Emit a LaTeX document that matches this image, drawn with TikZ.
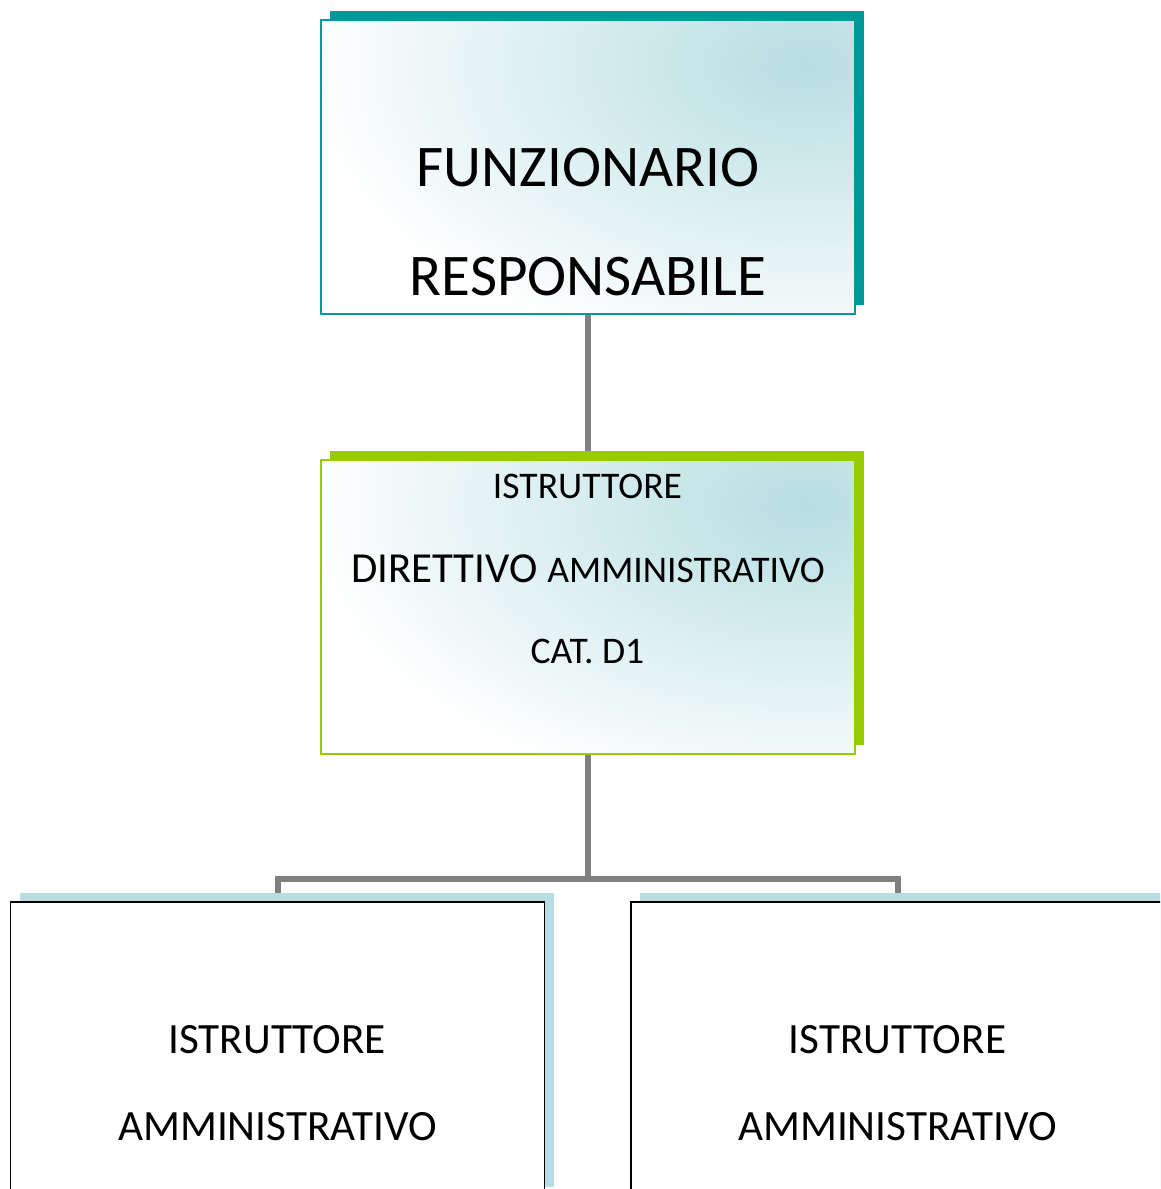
\documentclass[tikz,border=0pt]{standalone}
\usepackage{fontspec}
\setmainfont{Carlito}
\usetikzlibrary{shadows,backgrounds}

\definecolor{boxteal}{RGB}{0,153,153}
\definecolor{boxgreen}{RGB}{153,204,0}
\definecolor{paleteal}{RGB}{183,222,226}
\definecolor{linegray}{RGB}{128,128,128}

\tikzset{every picture/.style={line width=0.75pt}}
\tikzset{
  orgbox/.style={draw, rectangle, minimum width=534pt, minimum height=294pt, inner sep=0pt, fill=white},
  tinted/.style={path picture={\shade[inner color=paleteal, outer color=white] ([xshift=-50pt,yshift=-45pt]path picture bounding box.north east) ellipse (500pt and 300pt);}},
  backshadow/.style={general shadow={shadow xshift=9pt, shadow yshift=9pt, fill=#1}},
  conn/.style={draw=linegray, line width=6pt},
  lbl/.style={anchor=base, inner sep=0pt},
  huge/.style={font=\fontsize{59}{59}\selectfont},
  mid/.style={font=\fontsize{43.2}{43}\selectfont},
  small/.style={font=\fontsize{37.6}{37}\selectfont}
}

\begin{document}
\begin{tikzpicture}[x=1pt,y=-1pt]
  \useasboundingbox (0,0) rectangle (1160,1189);
  \clip (0,0) rectangle (1160,1189);

  % boxes
  \node[orgbox, draw=boxteal, line width=2pt, backshadow=boxteal, tinted] (funz) at (588,167) {};
  \node[orgbox, draw=boxgreen, line width=2pt, backshadow=boxgreen, tinted] (istrdir) at (588,607) {};
  \node[orgbox, draw=black, line width=1.5pt, backshadow=paleteal] (istrleft) at (277.5,1049) {};
  \node[orgbox, draw=black, line width=1.5pt, backshadow=paleteal] (istrright) at (898,1049) {};

  % connectors
  \begin{pgfonlayer}{background}
    \draw[conn] (funz.south) -- (istrdir.north);
    \draw[conn] (istrdir.south) -- ++(0,124) coordinate (fork);
    \draw[conn] (istrleft.north) |- (fork) -| (istrright.north);
  \end{pgfonlayer}

  % labels
  \node[lbl, huge] (funzA) at (588,186) {FUNZIONARIO};
  \node[lbl, huge] (funzB) at (588,295) {RESPONSABILE};
  \node[lbl, small] (dirA) at (587.5,498) {ISTRUTTORE};
  \node[lbl] (dirB) at (588,582) {\fontsize{42.8}{42}\selectfont DIRETTIVO \fontsize{37.6}{37}\selectfont AMMINISTRATIVO};
  \node[lbl, small] (dirC) at (587.5,663) {CAT. D1};
  \node[lbl, mid] (leftA) at (277,1053) {ISTRUTTORE};
  \node[lbl, mid] (leftB) at (277.5,1140) {AMMINISTRATIVO};
  \node[lbl, mid] (rightA) at (897.5,1053) {ISTRUTTORE};
  \node[lbl, mid] (rightB) at (897.5,1140) {AMMINISTRATIVO};
\end{tikzpicture}
\end{document}
